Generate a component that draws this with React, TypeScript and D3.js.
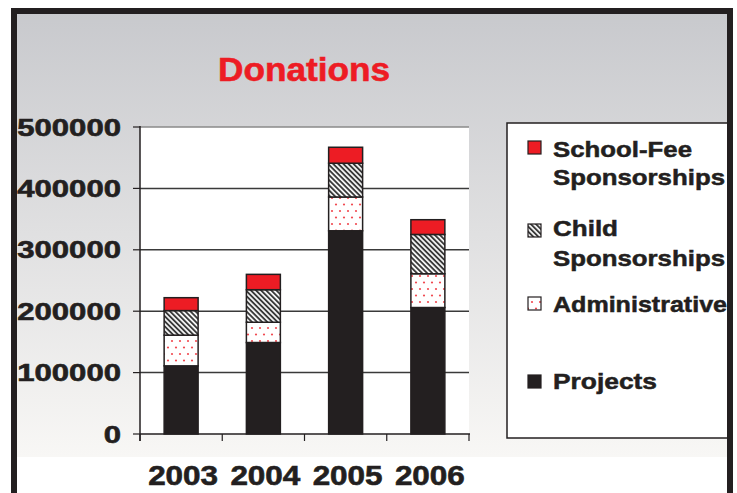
import React from "react";
import * as d3 from "d3";

const years = ["2003", "2004", "2005", "2006"];
const projects = [111000, 149000, 331000, 206000];
const administrative = [50000, 33000, 55000, 55000];
const childSponsorships = [40000, 53000, 55000, 64000];
const schoolFee = [21000, 25000, 26000, 24000];
const yTicks = [0, 100000, 200000, 300000, 400000, 500000];

const seriesKeys = ["projects", "administrative", "child", "school"];
const legendItems = [
  { key: "school", lines: ["School-Fee", "Sponsorships"] },
  { key: "child", lines: ["Child", "Sponsorships"] },
  { key: "administrative", lines: ["Administrative"] },
  { key: "projects", lines: ["Projects"] },
];

const W = 737;
const H = 493;
const dark = "#231f20";
const red = "#ed1c24";
const font = "'Liberation Sans', Arial, sans-serif";

const fills: Record<string, string> = {
  projects: dark,
  administrative: "url(#dots)",
  child: "url(#stripes)",
  school: red,
};

// rough text widths measured off the reference (the type is squeezed / stretched)
const yLabelWidth = (t: string) => t.length * 17.3;
const legendWidths: Record<string, number> = {
  "School-Fee": 139,
  Sponsorships: 172,
  Child: 65,
  Administrative: 174,
  Projects: 104,
};

export default function App() {
  const plot = { left: 140, right: 469, top: 127, bottom: 434 };

  const x = d3.scaleBand().domain(years).range([plot.left, plot.right]).paddingInner(0.587).paddingOuter(0.2935);
  const y = d3.scaleLinear().domain([0, 500000]).range([plot.bottom, plot.top]);

  const table = years.map((yr, i) => ({
    year: yr,
    projects: projects[i],
    administrative: administrative[i],
    child: childSponsorships[i],
    school: schoolFee[i],
  }));
  const stacked = d3.stack<any>().keys(seriesKeys)(table);

  const step = x.step();
  const boundaries = d3.range(years.length + 1).map((i) => plot.left + i * step);

  const legendBaselines = [
    [157, 185],
    [236, 266],
    [312],
    [389],
  ];
  const swatchY = [141, 224, 297, 375];

  return (
    <div style={{ position: "absolute", left: 0, top: 0 }}>
      <svg width={W} height={H} style={{ display: "block" }}>
        <defs>
          <linearGradient id="bg" x1="0" y1="0" x2="0" y2="1">
            <stop offset="0" stopColor="#c8c9cd" />
            <stop offset="1" stopColor="#f8f7f5" />
          </linearGradient>
          <pattern id="stripes" width="3.6" height="3.6" patternUnits="userSpaceOnUse" patternTransform="rotate(-45)">
            <rect width="3.6" height="3.6" fill="#f2f2f2" />
            <line x1="0.9" y1="0" x2="0.9" y2="3.6" stroke="#3a3a3a" strokeWidth="1.8" />
          </pattern>
          <pattern id="dots" width="8" height="13" patternUnits="userSpaceOnUse" x="2" y="0">
            <rect width="8" height="13" fill="#fff" />
            <circle cx="2" cy="3" r="1.1" fill={red} opacity="0.8" />
            <circle cx="6" cy="9.5" r="1.1" fill={red} opacity="0.8" />
          </pattern>
        </defs>

        <rect x={0} y={0} width={W} height={H} fill="#fff" />
        <rect x={14} y={11} width={716} height={446} fill="url(#bg)" />

        <text
          x={304}
          y={81}
          textAnchor="middle"
          fontFamily={font}
          fontWeight="bold"
          fontSize={33}
          fill={red}
          stroke={red}
          strokeWidth={0.6}
          textLength={172}
          lengthAdjust="spacingAndGlyphs"
        >
          Donations
        </text>

        {/* plot area */}
        <rect x={plot.left} y={plot.top} width={plot.right - plot.left} height={plot.bottom - plot.top} fill="#fff" />
        {yTicks
          .filter((t) => t > 0)
          .map((t) => (
            <line
              key={t}
              x1={plot.left}
              x2={plot.right}
              y1={y(t)}
              y2={y(t)}
              stroke={t === 500000 ? "#8a8a8a" : "#3a3a3a"}
              strokeWidth={1.5}
            />
          ))}

        {stacked.map((s) =>
          s.map((d, i) => (
            <rect
              key={s.key + i}
              x={x(years[i])}
              y={y(d[1])}
              width={x.bandwidth()}
              height={y(d[0]) - y(d[1])}
              fill={fills[s.key]}
              stroke={dark}
              strokeWidth={1.5}
            />
          ))
        )}

        {/* axes */}
        <line x1={plot.left} x2={plot.left} y1={plot.top - 1} y2={plot.bottom + 7} stroke={dark} strokeWidth={1.5} />
        <line x1={plot.left} x2={plot.right + 1} y1={plot.bottom} y2={plot.bottom} stroke={dark} strokeWidth={1.5} />
        {yTicks.map((t) => (
          <g key={t}>
            <line x1={plot.left - 7} x2={plot.left} y1={y(t)} y2={y(t)} stroke={dark} strokeWidth={1.2} />
            <text
              x={121}
              y={y(t) + 8.5}
              textAnchor="end"
              fontFamily={font}
              fontWeight="bold"
              fontSize={24}
              fill={dark}
              stroke={dark}
              strokeWidth={0.6}
              textLength={yLabelWidth(String(t))}
              lengthAdjust="spacingAndGlyphs"
            >
              {t}
            </text>
          </g>
        ))}
        {boundaries.map((bx, i) => (
          <line key={i} x1={bx} x2={bx} y1={plot.bottom} y2={plot.bottom + 7} stroke={dark} strokeWidth={1.2} />
        ))}
        {years.map((yr) => (
          <text
            key={yr}
            x={(x(yr) as number) + x.bandwidth() / 2 + 2}
            y={485}
            textAnchor="middle"
            fontFamily={font}
            fontWeight="bold"
            fontSize={27}
            fill={dark}
            stroke={dark}
            strokeWidth={0.6}
            textLength={70}
            lengthAdjust="spacingAndGlyphs"
          >
            {yr}
          </text>
        ))}

        {/* legend */}
        <rect x={507} y={123} width={225} height={315} fill="#fff" stroke={dark} strokeWidth={1.5} />
        {legendItems.map((item, i) => (
          <g key={item.key}>
            <rect x={528} y={swatchY[i]} width={13} height={13} fill={fills[item.key]} stroke={dark} strokeWidth={1.2} />
            {item.lines.map((ln, j) => (
              <text
                key={j}
                x={553}
                y={legendBaselines[i][j]}
                fontFamily={font}
                fontWeight="bold"
                fontSize={22}
                fill={dark}
                stroke={dark}
                strokeWidth={0.5}
                textLength={legendWidths[ln]}
                lengthAdjust="spacingAndGlyphs"
              >
                {ln}
              </text>
            ))}
          </g>
        ))}

        {/* outer frame */}
        <path d={`M14,${H + 5} V11 H730 V${H + 5}`} fill="none" stroke={dark} strokeWidth={6} />
      </svg>
    </div>
  );
}
